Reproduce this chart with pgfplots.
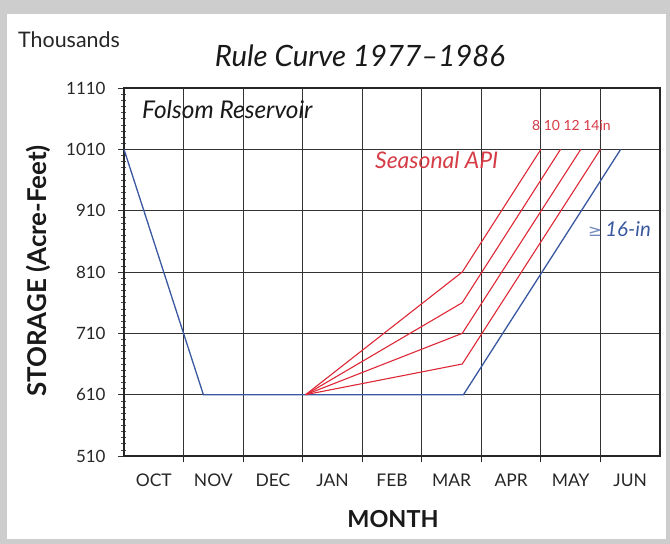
\documentclass[border=0pt]{standalone}
\usepackage{pgfplots}
\pgfplotsset{compat=1.18}
\usepackage{fontspec}
\setmainfont{Lato}
\newfontfamily\dejavu{DejaVu Sans}
\definecolor{rcblue}{RGB}{58,88,160}
\definecolor{rcred}{RGB}{222,40,55}
\definecolor{rcredtxt}{RGB}{214,60,70}
\definecolor{frame}{RGB}{205,205,205}
\begin{document}
\begin{tikzpicture}
\fill[frame] (-124bp,-88bp) rectangle (546bp,456bp);
\fill[white] (-117bp,-83bp) rectangle (542bp,442bp);
\begin{axis}[
  at={(0,0)}, anchor=south west,
  scale only axis, width=536bp, height=368bp,
  xmin=0, xmax=9, ymin=510, ymax=1110,
  clip=false,
  axis line style={black!85, line width=1.1bp},
  xtick={0.5,1.5,...,8.5},
  xticklabels={OCT,NOV,DEC,JAN,FEB,MAR,APR,MAY,JUN},
  xtick style={draw=none},
  extra x ticks={1,2,...,8},
  extra x tick labels={},
  extra x tick style={grid=major, major tick length=6bp, xtick align=outside, xtick style={draw=black!85, line width=0.9bp}},
  ytick={510,610,...,1110},
  minor y tick num=9,
  ymajorgrids,
  grid style={black!80, line width=0.9bp},
  tick pos=left,
  ytick align=center,
  major tick length=12bp,
  minor tick length=5bp,
  ytick style={black!80, line width=0.7bp},
  minor y tick style={black!70, line width=0.5bp},
  /pgf/number format/assume math mode=true,
  /pgf/number format/1000 sep={},
  yticklabel style={font=\fontsize{17}{19}\selectfont, text=black!85, xshift=-9bp},
  xticklabel style={font=\fontsize{17.5}{20}\selectfont, text=black!85, yshift=-14bp},
]
\addplot[rcblue, line width=1.3bp] coordinates {(0,1010) (1.333,610) (5.70,610) (8.34,1010)};
\addplot[rcred, line width=1.1bp] coordinates {(3.05,610) (5.68,810) (7.00,1010)};
\addplot[rcred, line width=1.1bp] coordinates {(3.05,610) (5.68,760) (7.33,1010)};
\addplot[rcred, line width=1.1bp] coordinates {(3.05,610) (5.68,710) (7.67,1010)};
\addplot[rcred, line width=1.1bp] coordinates {(3.05,610) (5.68,660) (8.00,1010)};
\end{axis}
\node[font=\fontsize{29.5}{32}\selectfont\itshape, text=black!90] at (236bp,400bp) {Rule Curve 1977\textendash1986};
\node[anchor=west, font=\fontsize{21.5}{24}\selectfont, text=black!85, inner sep=0pt] at (-106bp,416bp) {Thousands};
\node[anchor=west, font=\fontsize{24.5}{27}\selectfont\itshape, text=black!90, inner sep=0pt] at (18bp,346bp) {Folsom Reservoir};
\node[anchor=west, font=\fontsize{23}{26}\selectfont\itshape, text=rcredtxt, inner sep=0pt] at (251bp,296bp) {Seasonal API};
\node[anchor=west, font=\fontsize{14}{16}\selectfont, text=rcredtxt, inner sep=0pt] at (408bp,331bp) {8 10 12 14in};
\node[anchor=west, font=\fontsize{20.5}{23}\selectfont\itshape, text=rcblue, inner sep=0pt] at (464bp,227bp) {{\dejavu\fontsize{16.5}{18}\selectfont\upshape\color{rcblue!70}≥}\,16-in};
\node[font=\fontsize{23.5}{26}\selectfont\bfseries, text=black!90] at (269bp,-63bp) {MONTH};
\node[rotate=90, font=\fontsize{26}{29}\selectfont\bfseries, text=black!90] at (-86bp,185bp) {STORAGE (Acre-Feet)};
\end{tikzpicture}
\end{document}
